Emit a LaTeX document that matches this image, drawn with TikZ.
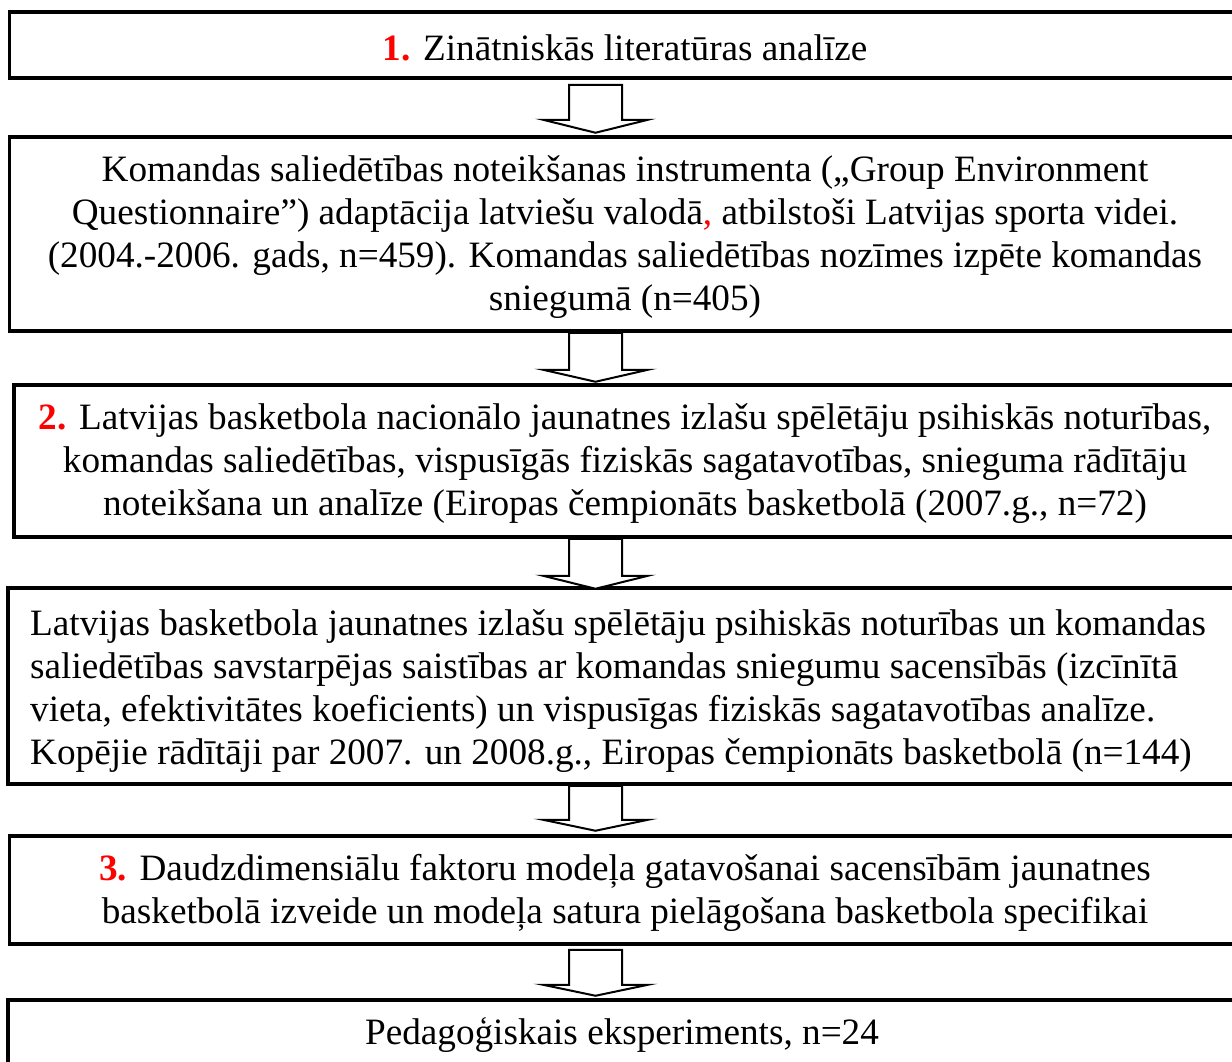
\documentclass[tikz,border=0pt]{standalone}
\usepackage{fontspec}
\setmainfont{Liberation Serif}
\usetikzlibrary{calc}
\newcommand\rnum[1]{{\color{red}\bfseries #1}}
\begin{document}
\begin{tikzpicture}[x=1pt,y=-1pt,
  box/.style={draw, line width=3.5pt, rectangle, inner sep=0pt},
  txt/.style={align=center, inner sep=0pt, yshift=-3pt, font=\fontsize{37.2}{43}\selectfont},
  barrow/.style={draw, fill=white, line width=2pt, line join=miter}]
\useasboundingbox (0,0) rectangle (1232,1061);
\clip (0,0) rectangle (1232,1061);
% boxes
\node[box, minimum width=1231pt, minimum height=66pt]  (b1) at (625,45) {};
\node[box, minimum width=1231pt, minimum height=194pt] (b2) at (625,234) {};
\node[box, minimum width=1222pt, minimum height=152pt] (b3) at (625,461) {};
\node[box, minimum width=1234pt, minimum height=196pt] (b4) at (625,686) {};
\node[box, minimum width=1231pt, minimum height=108pt] (b5) at (625,890) {};
\node[box, minimum width=1234pt, minimum height=66pt]  (b6) at (625,1033) {};
% texts
\node[txt] (t1) at (b1.center) {\rnum{1.} Zinātniskās literatūras analīze};
\node[txt] (t2) at (b2.center) {Komandas saliedētības noteikšanas instrumenta („Group Environment\\
Questionnaire”) adaptācija latviešu valodā{\color{red},} atbilstoši Latvijas sporta videi.\\
(2004.-2006. gads, n=459). Komandas saliedētības nozīmes izpēte komandas\\
sniegumā (n=405)};
\node[txt] (t3) at (b3.center) {\rnum{2.} Latvijas basketbola nacionālo jaunatnes izlašu spēlētāju psihiskās noturības,\\
komandas saliedētības, vispusīgās fiziskās sagatavotības, snieguma rādītāju\\
noteikšana un analīze (Eiropas čempionāts basketbolā (2007.g., n=72)};
\node[txt, align=left, anchor=west] (t4) at (30,688) {Latvijas basketbola jaunatnes izlašu spēlētāju psihiskās noturības un komandas\\
saliedētības savstarpējas saistības ar komandas sniegumu sacensībās (izcīnītā\\
vieta, efektivitātes koeficients) un vispusīgas fiziskās sagatavotības analīze.\\
Kopējie rādītāji par 2007. un 2008.g., Eiropas čempionāts basketbolā (n=144)};
\node[txt] (t5) at (b5.center) {\rnum{3.} Daudzdimensiālu faktoru modeļa gatavošanai sacensībām jaunatnes\\
basketbolā izveide un modeļa satura pielāgošana basketbola specifikai};
\node[txt] (t6) at (622,1032) {Pedagoģiskais eksperiments, n=24};
% arrows
\coordinate (ax) at (595.5,0);
\draw[barrow] ($(ax |- b1.south)+(0,5)$) -- ++(26.5,0) -- ++(0,35) -- ++(26,0) -- ++(-52.5,13) -- ++(-52.5,-13) -- ++(26,0) -- ++(0,-35) -- cycle;
\draw[barrow] (ax |- b2.south) -- ++(26.5,0) -- ++(0,37) -- ++(26,0) -- ++(-52.5,12) -- ++(-52.5,-12) -- ++(26,0) -- ++(0,-37) -- cycle;
\draw[barrow] (ax |- b3.south) -- ++(26.5,0) -- ++(0,37) -- ++(26,0) -- ++(-52.5,13) -- ++(-52.5,-13) -- ++(26,0) -- ++(0,-37) -- cycle;
\draw[barrow] (ax |- b4.south) -- ++(26.5,0) -- ++(0,34) -- ++(26,0) -- ++(-52.5,11) -- ++(-52.5,-11) -- ++(26,0) -- ++(0,-34) -- cycle;
\draw[barrow] ($(ax |- b5.south)+(0,4)$) -- ++(26.5,0) -- ++(0,35) -- ++(26,0) -- ++(-52.5,11) -- ++(-52.5,-11) -- ++(26,0) -- ++(0,-35) -- cycle;
\end{tikzpicture}
\end{document}
